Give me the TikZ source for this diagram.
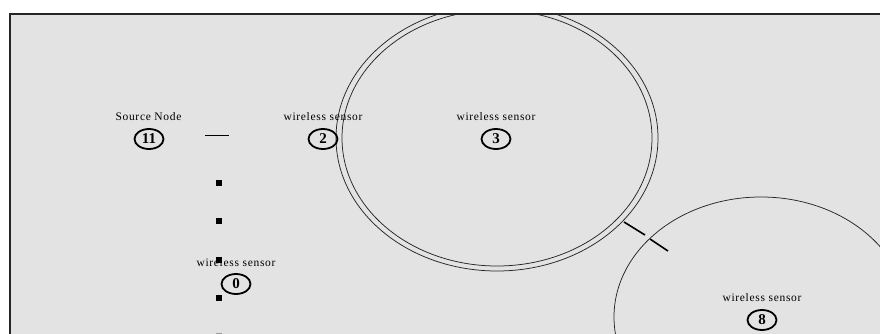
\documentclass[tikz,border=0pt]{standalone}
\usepackage{fontspec}
\setmainfont{Liberation Serif}
\newfontfamily\lblfont[LetterSpace=6]{Liberation Serif}
\usetikzlibrary{shapes.geometric}
\definecolor{bgray}{HTML}{E3E3E3}
\begin{document}
\begin{tikzpicture}[x=1pt,y=-1pt,
  sensor/.style={draw, ellipse, line width=1.8pt, minimum width=29pt, minimum height=20pt,
    inner sep=0pt, font=\fontsize{15}{15}\selectfont\bfseries},
  lbl/.style={inner sep=0pt, font=\lblfont\fontsize{11.5}{13}\selectfont},
  rangeline/.style={draw=black!85, line width=0.75pt},
  sq/.style={fill=black, rectangle, minimum size=6.5pt, inner sep=0pt},
  tick/.style={draw=black, line width=1.6pt}
]
\useasboundingbox (0,0) rectangle (880,334);
\fill[white] (0,0) rectangle (880,334);
\fill[bgray] (10,14) rectangle (892,346);
\begin{scope}
  \clip (10,14) rectangle (892,346);
  \draw[rangeline] (497,138) ellipse [x radius=161pt, y radius=133pt];
  \draw[rangeline] (497,138) ellipse [x radius=155pt, y radius=128pt];
  \draw[rangeline] (761,317) ellipse [x radius=147pt, y radius=120pt];
\end{scope}
\draw[line width=2pt, black!85] (10,346) -- (10,14) -- (892,14);

% sensors
\node[sensor] (n11) at (149,139) {11};
\node[lbl] (l11) at (148.5,117) {Source Node};
\node[sensor] (n2) at (323,139) {2};
\node[lbl] (l2) at (323,117) {wireless sensor};
\node[sensor] (n3) at (496,139) {3};
\node[lbl] (l3) at (496,117) {wireless sensor};
\node[sensor] (n0) at (236,284) {0};
\node[lbl] (l0) at (236,263) {wireless sensor};
\node[sensor] (n8) at (762,320) {8};
\node[lbl] (l8) at (762,298) {wireless sensor};

% packets
\node[sq] (p1) at (219,183) {};
\node[sq] (p2) at (219,221) {};
\node[sq] (p3) at (219,260) {};
\node[sq] (p4) at (219,298) {};
\node[sq, fill=black!40] (p5) at (219,336) {};

\coordinate (s1) at (205,135);
\coordinate (s2) at (229,135);
\draw[line width=1pt] (s1) -- (s2);

\coordinate (t1) at (624,222);
\coordinate (t2) at (645,235);
\coordinate (t3) at (650,239);
\coordinate (t4) at (668,251);
\draw[tick] (t1) -- (t2);
\draw[tick] (t3) -- (t4);
\end{tikzpicture}
\end{document}
